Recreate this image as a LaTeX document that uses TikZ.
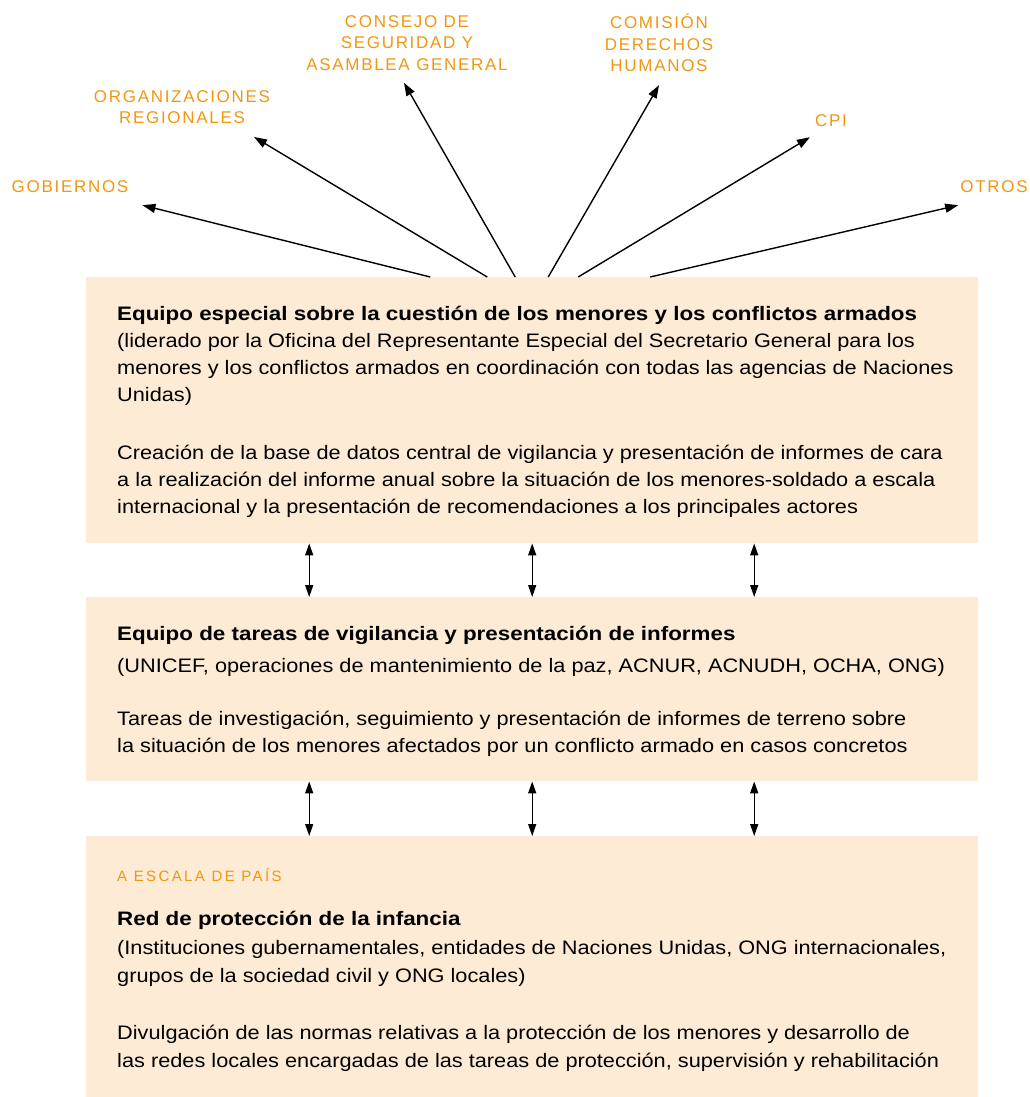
\documentclass[tikz,border=0pt]{standalone}
\usepackage{fontspec}
\setmainfont[FakeStretch=1.115, BoldFeatures={FakeStretch=1.148}]{Liberation Sans}
\newfontfamily\capsfont[LetterSpace=10]{Liberation Sans}
\newfontfamily\smallcapsfont[LetterSpace=16]{Liberation Sans}
\usetikzlibrary{arrows.meta,calc}
\definecolor{panelfill}{RGB}{253,235,213}
\definecolor{unorange}{RGB}{242,150,16}
\begin{document}
\begin{tikzpicture}[x=1pt,y=-1pt]
\tikzstyle{every node}+=[inner sep=0pt]
\tikzstyle{panel}=[fill=panelfill, anchor=north west, minimum width=892pt]
\tikzstyle{body}=[anchor=north west, align=left, font=\fontsize{19.5}{27}\selectfont]
\tikzstyle{actor}=[align=center, text=unorange, font=\capsfont\fontsize{17}{21.5}\selectfont]
\tikzstyle{fan}=[line width=1.4pt, -{Triangle[length=13pt,width=9pt]}]
\tikzstyle{dbl}=[line width=1.4pt, {Triangle[length=12pt,width=8pt]}-{Triangle[length=12pt,width=8pt]}]
\useasboundingbox (0,0) rectangle (1030,1097);
% panels
\node[panel, minimum height=266pt] (equipo) at (86,277) {};
\node[panel, minimum height=184pt] (tareas) at (86,597) {};
\node[panel, minimum height=270pt] (red) at (86,836) {};
\node[body] (equipo-txt) at (117,306) {\textbf{Equipo especial sobre la cuestión de los menores y los conflictos armados}\\
(liderado por la Oficina del Representante Especial del Secretario General para los\\
menores y los conflictos armados en coordinación con todas las agencias de Naciones\\
Unidas)\\[31pt]
Creación de la base de datos central de vigilancia y presentación de informes de cara\\
a la realización del informe anual sobre la situación de los menores-soldado a escala\\
internacional y la presentación de recomendaciones a los principales actores};
\node[body] (tareas-txt) at (117,625.5) {\textbf{Equipo de tareas de vigilancia y presentación de informes}\\[5pt]
(UNICEF, operaciones de mantenimiento de la paz, ACNUR, ACNUDH, OCHA, ONG)\\[26pt]
Tareas de investigación, seguimiento y presentación de informes de terreno sobre\\
la situación de los menores afectados por un conflicto armado en casos concretos};
\node[anchor=north west, text=unorange, font=\smallcapsfont\fontsize{15}{16}\selectfont] (pais) at (117,868) {A ESCALA DE PAÍS};
\node[body, font=\fontsize{19.5}{28.5}\selectfont] (red-txt) at (117,911) {\textbf{Red de protección de la infancia}\\
(Instituciones gubernamentales, entidades de Naciones Unidas, ONG internacionales,\\
grupos de la sociedad civil y ONG locales)\\[28pt]
Divulgación de las normas relativas a la protección de los menores y desarrollo de\\
las redes locales encargadas de las tareas de protección, supervisión y rehabilitación};
% actors
\node[actor] (gob) at (70,187) {GOBIERNOS};
\node[actor] (org) at (182,107) {ORGANIZACIONES\\REGIONALES};
\node[actor] (consejo) at (407,43) {CONSEJO DE\\SEGURIDAD Y\\ASAMBLEA GENERAL};
\node[actor] (comision) at (659,43) {COMISIÓN\\DERECHOS\\HUMANOS};
\node[actor] (cpi) at (831,121) {CPI};
\node[actor] (otros) at (994,187) {OTROS};
\draw[fan] ([xshift=-102pt]equipo.north) -- ($(gob.south east)+(14,12)$);
\draw[fan] ([xshift=-45pt]equipo.north) -- ($(org.south)+(72,13)$);
\draw[fan] ([xshift=-17pt]equipo.north) -- ($(consejo.south)+(-3,12)$);
\draw[fan] ([xshift=16pt]equipo.north) -- ($(comision.south)+(0,13)$);
\draw[fan] ([xshift=46pt]equipo.north) -- ($(cpi.south west)+(-5,10)$);
\draw[fan] ([xshift=118pt]equipo.north) -- ($(otros.south west)+(-2,12)$);
\foreach \dx in {-223,0,222} {
\draw[dbl] ([xshift=\dx pt]equipo.south) -- ([xshift=\dx pt]tareas.north);
\draw[dbl] ([xshift=\dx pt]tareas.south) -- ([xshift=\dx pt]red.north);
}
\end{tikzpicture}
\end{document}
